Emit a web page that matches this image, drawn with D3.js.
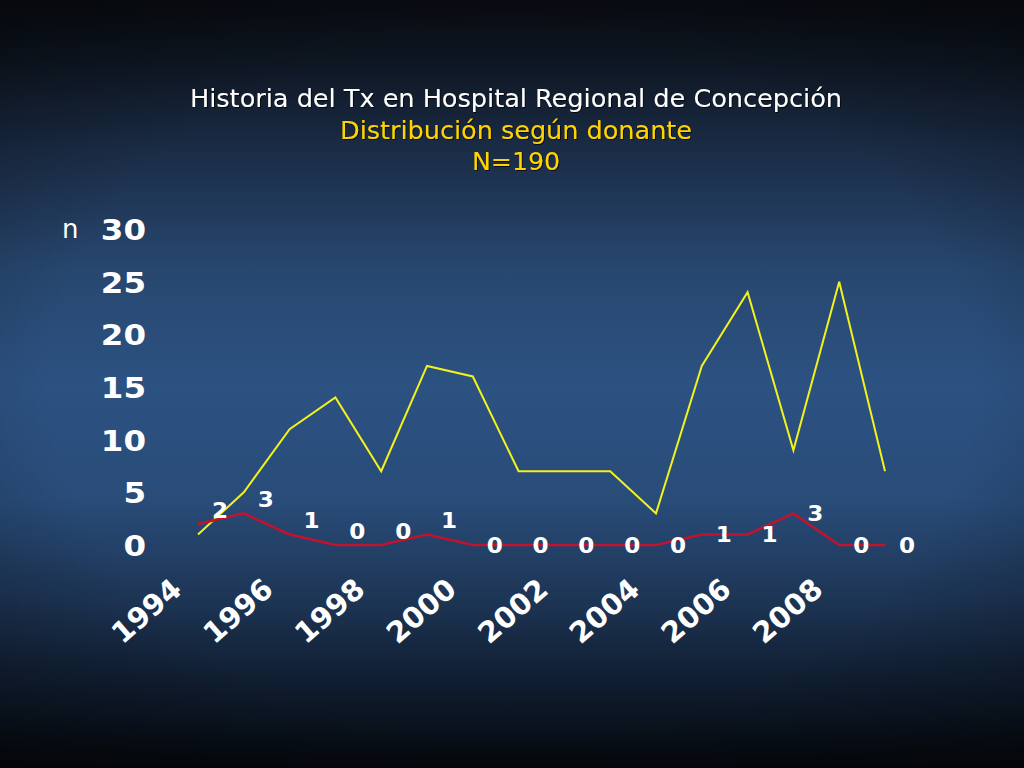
<!DOCTYPE html>
<html>
<head>
<meta charset="utf-8">
<script src="https://cdn.jsdelivr.net/npm/d3@7"></script>
<style>
html,body{margin:0;padding:0;background:#0b1018;}
svg{display:block;}
</style>
</head>
<body>
<script>
// ---- data ----
const years = [1994,1995,1996,1997,1998,1999,2000,2001,2002,2003,2004,2005,2006,2007,2008,2009];
const yellowValues = [1,5,11,14,7,17,16,7,7,7,3,17,24,9,25,7];
const redValues = [2,3,1,0,0,1,0,0,0,0,0,1,1,3,0,0];
const yTicks = [0,5,10,15,20,25,30];
const xTickLabels = [1994,1996,1998,2000,2002,2004,2006,2008];
const titleLines = ["Historia del Tx en Hospital Regional de Concepción","Distribución según donante","N=190"];

const W = 1024, H = 768;
const svg = d3.select("body").append("svg").attr("width", W).attr("height", H);

// background gradient
const defs = svg.append("defs");
const g = defs.append("linearGradient").attr("id","bg").attr("x1",0).attr("y1",0).attr("x2",0).attr("y2",1);
[[0,"#080b10"],[0.08,"#0e1622"],[0.2,"#1b2d47"],[0.35,"#27476f"],[0.5,"#2c5282"],[0.65,"#294c79"],[0.78,"#1d3555"],[0.88,"#111f33"],[1,"#04070b"]]
  .forEach(([o,c]) => g.append("stop").attr("offset",o).attr("stop-color",c));
const rg = defs.append("radialGradient").attr("id","vig").attr("cx",0.5).attr("cy",0.5).attr("r",0.75);
rg.append("stop").attr("offset",0.6).attr("stop-color","#000").attr("stop-opacity",0);
rg.append("stop").attr("offset",1).attr("stop-color","#000").attr("stop-opacity",0.35);
const sh = defs.append("filter").attr("id","shadow").attr("x","-5%").attr("y","-20%").attr("width","110%").attr("height","140%");
sh.append("feDropShadow").attr("dx",1).attr("dy",1).attr("stdDeviation",0.6).attr("flood-color","#000").attr("flood-opacity",0.7);

svg.append("rect").attr("width",W).attr("height",H).attr("fill","url(#bg)");
svg.append("rect").attr("width",W).attr("height",H).attr("fill","url(#vig)");

// title
const tfont = "'DejaVu Sans', Verdana, sans-serif";
const titleSpec = [
  {y:107, fill:"#ffffff", len:652},
  {y:139, fill:"#ffd400", len:352},
  {y:170, fill:"#ffd400", len:88}
];
titleLines.forEach((t,i) => {
  svg.append("text")
    .attr("x", 516).attr("y", titleSpec[i].y)
    .attr("text-anchor","middle")
    .attr("font-family", tfont).attr("font-size", 24)
    .attr("fill", titleSpec[i].fill)
    .attr("filter","url(#shadow)")
    .attr("textLength", titleSpec[i].len).attr("lengthAdjust","spacingAndGlyphs")
    .text(t);
});

// scales
const x = d3.scalePoint().domain(years).range([198, 885]);
const y = d3.scaleLinear().domain([0,30]).range([545, 229]);

// y axis
const yAxis = svg.append("g").attr("transform","translate(146,0)")
  .call(d3.axisLeft(y).tickValues(yTicks).tickSize(0).tickPadding(0));
yAxis.select(".domain").remove();
yAxis.selectAll("text")
  .attr("font-family", tfont).attr("font-weight","bold").attr("font-size", 29)
  .attr("fill","#ffffff").attr("dy","0.36em")
  .attr("transform","scale(1.12,1)");

svg.append("text").attr("x",62).attr("y",238)
  .attr("font-family", tfont).attr("font-size", 26).attr("fill","#ffffff").text("n");

// x axis
const xAxis = svg.append("g").attr("transform","translate(0,545)")
  .call(d3.axisBottom(x).tickValues(xTickLabels).tickSize(0).tickPadding(0));
xAxis.select(".domain").remove();
xAxis.selectAll("text")
  .attr("font-family", tfont).attr("font-weight","bold").attr("font-size", 29)
  .attr("fill","#ffffff")
  .attr("text-anchor","end")
  .attr("dy", null)
  .attr("transform","translate(-15,47) rotate(-41)");

// lines
const line = d3.line().x((d,i) => x(years[i])).y(d => y(d));
svg.append("path").datum(yellowValues).attr("d", line)
  .attr("fill","none").attr("stroke","#f2f21c").attr("stroke-width",2);
svg.append("path").datum(redValues).attr("d", line)
  .attr("fill","none").attr("stroke","#c0132d").attr("stroke-width",2.5);

// red data labels
svg.append("g").selectAll("text").data(redValues).join("text")
  .attr("transform", (d,i) => `translate(${x(years[i]) + 22},${y(d) + (i < 6 ? -6 : 8)}) scale(1.1,1)`)
  .attr("text-anchor","middle")
  .attr("font-family", tfont).attr("font-weight","bold").attr("font-size", 21)
  .attr("fill","#ffffff")
  .text(d => d);
</script>
</body>
</html>
